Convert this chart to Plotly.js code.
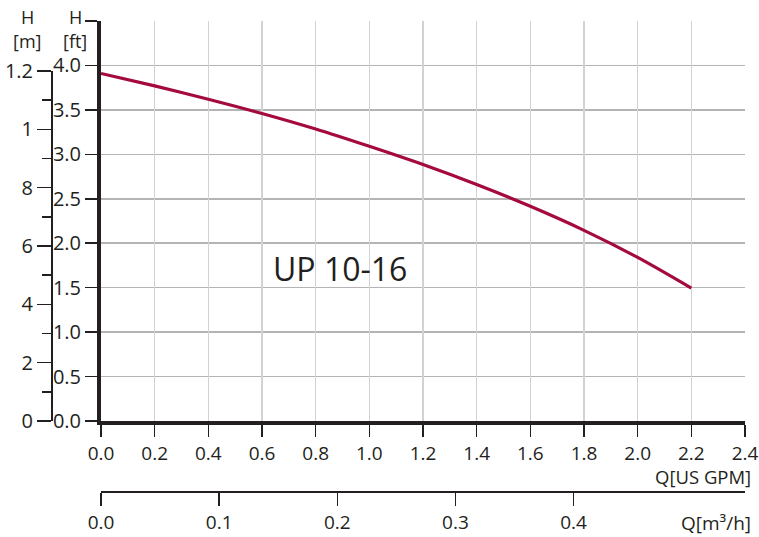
<!DOCTYPE html>
<html>
<head>
<meta charset="utf-8">
<script src="https://cdn.plot.ly/plotly-3.0.1.min.js"></script>
<style>html,body{margin:0;padding:0;background:#fff;}#chart{width:759px;height:537px;}</style>
</head>
<body>
<div id="chart"></div>
<script>
// ---- data ----
const flowGpm = [0, 0.2, 0.4, 0.6, 0.8, 1.0, 1.2, 1.4, 1.6, 1.8, 2.0, 2.2];
const headFt  = [3.91, 3.77, 3.62, 3.46, 3.285, 3.09, 2.885, 2.66, 2.415, 2.145, 1.84, 1.495];
const pumpLabel = 'UP 10-16';

const gpmTickVals = [0, 0.2, 0.4, 0.6, 0.8, 1.0, 1.2, 1.4, 1.6, 1.8, 2.0, 2.2, 2.4];
const gpmGridVals = [0.2, 0.4, 0.6, 0.8, 1.0, 1.2, 1.4, 1.6, 1.8, 2.0, 2.2];
const ftTickVals  = [0, 0.5, 1.0, 1.5, 2.0, 2.5, 3.0, 3.5, 4.0];
const ftTickText  = ['0.0', '0.5', '1.0', '1.5', '2.0', '2.5', '3.0', '3.5', '4.0'];
const mTickVals   = [0, 0.2, 0.4, 0.6, 0.8, 1.0, 1.2];
const mTickText   = ['0', '2', '4', '6', '8', '1', '1.2'];
const mMinorVals  = [0.1, 0.3, 0.5, 0.7, 0.9, 1.1];
const m3hTickVals = [0, 0.1, 0.2, 0.3, 0.4];
const m3hTickText = ['0.0', '0.1', '0.2', '0.3', '0.4'];

// unit conversions
const M_PER_FT = 0.3048;
const M3H_PER_GPM = 0.2271247;

// ---- layout geometry ----
const W = 759, H = 537;
const mL = 0, mR = 14, mT = 21, mB = 10;
const PW = W - mL - mR, PH = H - mT - mB;
const px = x => (x - mL) / PW;          // pixel -> paper x
const py = y => (H - mB - y) / PH;      // pixel -> paper y
const FT_MAX = 4.5, GPM_MAX = 2.4, M_MAX = 1.2;
const xDom = [px(101), 1];
const yDom = [py(421), 1];
const mDomTop = yDom[0] + (yDom[1] - yDom[0]) * (M_MAX / M_PER_FT) / FT_MAX;

const ink = '#231f20';
const fam = 'Open Sans, sans-serif';
const font = {family: fam, size: 20, color: ink};
const xFont = {family: fam, size: 19, color: ink};
const headFont = {family: fam, size: 18, color: ink};

const hidden = {type: 'scatter', mode: 'lines', line: {width: 0}, opacity: 0,
                hoverinfo: 'skip', showlegend: false};
const traces = [
  {x: flowGpm, y: headFt, type: 'scatter', mode: 'lines',
   line: {color: '#a50a3c', width: 3.2, shape: 'spline', smoothing: 0.8},
   xaxis: 'x', yaxis: 'y', hoverinfo: 'skip', showlegend: false},
  // same curve on the secondary unit axes, invisible, only to bind those axes
  Object.assign({x: flowGpm, y: headFt.map(v => v * M_PER_FT), xaxis: 'x', yaxis: 'y2'}, hidden),
  Object.assign({x: flowGpm.map(v => v * M3H_PER_GPM), y: headFt, xaxis: 'x2', yaxis: 'y'}, hidden),
  Object.assign({x: flowGpm, y: headFt, xaxis: 'x3', yaxis: 'y'}, hidden)
];

const layout = {
  width: W, height: H,
  margin: {l: mL, r: mR, t: mT, b: mB, pad: 0},
  paper_bgcolor: '#ffffff', plot_bgcolor: 'rgba(0,0,0,0)',
  font: font, showlegend: false,
  xaxis: {
    domain: xDom, range: [0, GPM_MAX], anchor: 'y',
    tickmode: 'array', tickvals: gpmTickVals, tickformat: '.1f',
    ticks: 'outside', ticklen: 12, tickwidth: 1.5, tickcolor: ink,
    ticklabeloverflow: 'allow',
    showgrid: false, zeroline: false,
    showline: true, linecolor: ink, linewidth: 4,
    tickfont: xFont
  },
  xaxis3: {
    overlaying: 'x', range: [0, GPM_MAX], anchor: 'y',
    tickmode: 'array', tickvals: gpmGridVals,
    showticklabels: false, ticks: '', showline: false, zeroline: false,
    showgrid: true, gridcolor: '#d2d2d2', gridwidth: 1.6
  },
  xaxis2: {
    overlaying: 'x', anchor: 'free', position: py(492), side: 'bottom',
    range: [0, GPM_MAX * M3H_PER_GPM],
    tickmode: 'array', tickvals: m3hTickVals, ticktext: m3hTickText,
    ticks: 'outside', ticklen: 13, tickwidth: 1.5, tickcolor: ink,
    ticklabeloverflow: 'allow',
    showgrid: false, zeroline: false,
    showline: true, linecolor: ink, linewidth: 2,
    tickfont: xFont
  },
  yaxis: {
    domain: yDom, range: [0, FT_MAX], anchor: 'x',
    tickmode: 'array', tickvals: ftTickVals, ticktext: ftTickText,
    ticks: 'outside', ticklen: 12, tickwidth: 1.5, tickcolor: ink,
    minor: {tickmode: 'array', tickvals: [FT_MAX], ticks: 'outside', ticklen: 12,
            tickwidth: 1.5, tickcolor: ink, showgrid: false},
    showgrid: true, gridcolor: '#b4b4b4', gridwidth: 1.6, zeroline: false,
    showline: true, linecolor: ink, linewidth: 4,
    tickfont: font
  },
  yaxis2: {
    domain: [yDom[0], mDomTop], range: [0, M_MAX], anchor: 'free', position: px(52), side: 'left',
    tickmode: 'array', tickvals: mTickVals, ticktext: mTickText,
    ticks: 'outside', ticklen: 14, tickwidth: 1.5, tickcolor: ink,
    minor: {tickmode: 'array', tickvals: mMinorVals, ticks: 'outside', ticklen: 9,
            tickwidth: 1.5, tickcolor: ink, showgrid: false},
    showgrid: false, zeroline: false,
    showline: true, linecolor: ink, linewidth: 2,
    tickfont: font
  },
  annotations: [
    {xref: 'paper', yref: 'paper', x: px(27), y: py(17), xanchor: 'center', yanchor: 'middle', text: 'H', showarrow: false, font: headFont},
    {xref: 'paper', yref: 'paper', x: px(27), y: py(41), xanchor: 'center', yanchor: 'middle', text: '[m]', showarrow: false, font: headFont},
    {xref: 'paper', yref: 'paper', x: px(75), y: py(17), xanchor: 'center', yanchor: 'middle', text: 'H', showarrow: false, font: headFont},
    {xref: 'paper', yref: 'paper', x: px(75), y: py(41), xanchor: 'center', yanchor: 'middle', text: '[ft]', showarrow: false, font: headFont},
    {xref: 'paper', yref: 'paper', x: px(753), y: py(476), xanchor: 'right', yanchor: 'middle', text: 'Q[US GPM]', showarrow: false,
     font: {family: fam, size: 18.5, color: ink}},
    {xref: 'paper', yref: 'paper', x: px(753), y: py(523), xanchor: 'right', yanchor: 'middle', text: 'Q[m³/h]', showarrow: false, font: xFont},
    {xref: 'x', yref: 'y', x: 0.89, y: 1.72, xanchor: 'center', yanchor: 'middle', text: pumpLabel, showarrow: false,
     font: {family: fam, size: 32, color: ink}}
  ]
};

Plotly.newPlot('chart', traces, layout, {staticPlot: true, displayModeBar: false});
</script>
</body>
</html>
